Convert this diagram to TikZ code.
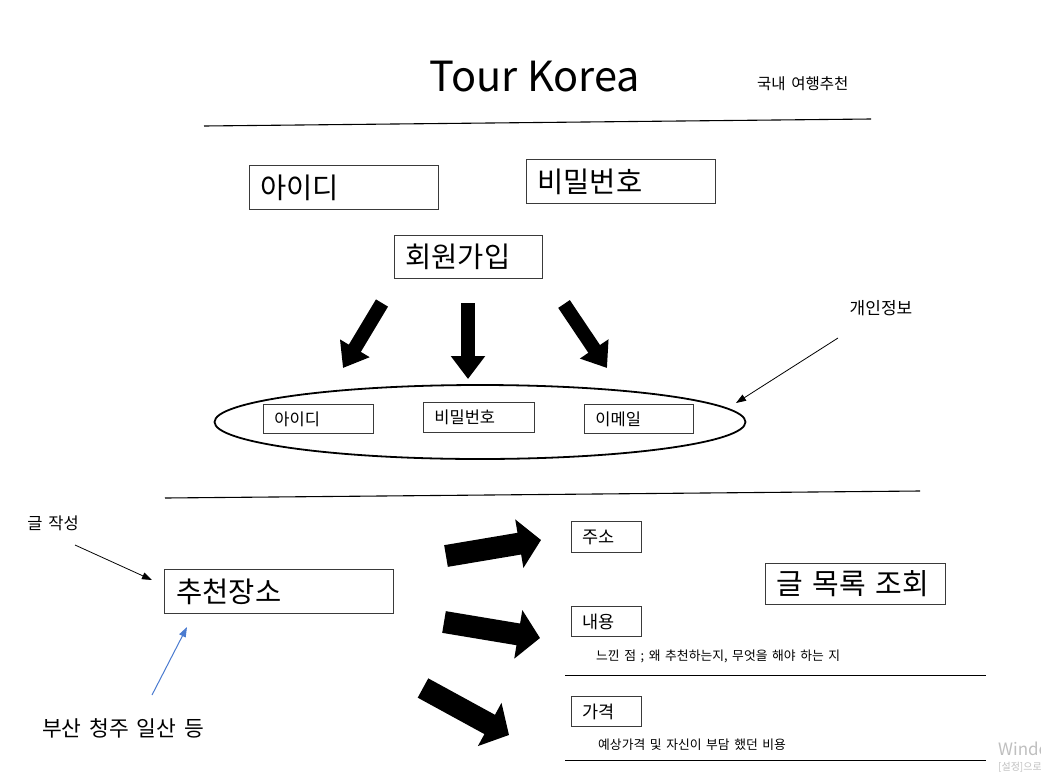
\documentclass[tikz,border=0pt]{standalone}
\usepackage{fontspec}
\setmainfont[WordSpace=1.6]{Noto Sans CJK KR}
\newfontfamily\titlefont{Noto Sans CJK KR}
\usetikzlibrary{arrows.meta,shapes.geometric}
\definecolor{boxline}{HTML}{3A3A3A}
\definecolor{bluearrow}{HTML}{4A7BD0}
\tikzset{
  fs/.style={font=\fontsize{#1}{#1}\selectfont},
  bigbox/.style={draw=boxline, line width=0.9pt, rectangle, anchor=north west, inner xsep=11pt, inner ysep=0pt, align=left, fs=28.5},
  smallbox/.style={draw=boxline, line width=0.9pt, rectangle, anchor=north west, inner xsep=11pt, inner ysep=0pt, align=left, fs=16.5},
  rule/.style={line width=1.1pt, black},
  fatdown/.style={line width=14pt, -{Triangle[width=33pt,length=23pt]}},
  fatright/.style={line width=22pt, -{Triangle[width=48pt,length=22pt]}},
  thinarrow/.style={line width=0.8pt, -{Triangle[width=7pt,length=10pt]}},
  plain/.style={inner sep=0pt},
}
\begin{document}
\begin{tikzpicture}[x=1pt,y=-1pt]
\useasboundingbox (0,0) rectangle (1041,774);
\fill[white] (0,0) rectangle (1041,774);

% title
\node[plain, font=\titlefont\fontsize{41.5}{42}\selectfont] (title) at (535,77) {Tour Korea};
\node[plain, fs=15.5, anchor=west] (sub) at (757,84) {국내 여행추천};
\coordinate (r1a) at (204,126);
\coordinate (r1b) at (871,119);
\draw[rule] (r1a) -- (r1b);

% login boxes
\node[bigbox, minimum width=189pt, minimum height=44pt, text width=167pt] (id) at (249,165) {아이디};
\node[bigbox, minimum width=189pt, minimum height=44pt, text width=167pt] (pw) at (526,159) {비밀번호};
\node[bigbox, minimum width=148pt, minimum height=43pt, text width=126pt] (join) at (394,235) {회원가입};

% fat arrows down
\coordinate (a1s) at (382,303); \coordinate (a1e) at (343,368);
\coordinate (a2s) at (468,303); \coordinate (a2e) at (468,379);
\coordinate (a3s) at (564,304); \coordinate (a3e) at (607,368);
\draw[fatdown] (a1s) -- (a1e);
\draw[fatdown] (a2s) -- (a2e);
\draw[fatdown] (a3s) -- (a3e);

% ellipse with fields
\node[draw, ellipse, line width=1.8pt, minimum width=531pt, minimum height=74pt, inner sep=0pt] (info) at (480,422) {};
\node[smallbox, minimum width=110pt, minimum height=29pt, text width=88pt] (fid) at (263,404) {아이디};
\node[smallbox, minimum width=111pt, minimum height=30pt, text width=89pt] (fpw) at (423,402) {비밀번호};
\node[smallbox, minimum width=109pt, minimum height=29pt, text width=87pt] (fmail) at (584,404) {이메일};

\node[plain, fs=17] (priv) at (881,308) {개인정보};
\coordinate (p1) at (838,338);
\coordinate (p2) at (736,403);
\draw[thinarrow] (p1) -- (p2);

\coordinate (r2a) at (165,498);
\coordinate (r2b) at (920,491);
\draw[rule] (r2a) -- (r2b);

% lower part
\node[plain, fs=16.5] (write) at (53,523) {글 작성};
\node[bigbox, minimum width=227pt, minimum height=44pt, text width=205pt, inner xsep=12pt] (place) at (164,569) {추천장소};
\coordinate (w1) at (75,545);
\coordinate (w2) at (152,580);
\draw[thinarrow] (w1) -- (w2);
\node[plain, fs=21.5] (ex) at (123,728) {부산 청주 일산 등};
\coordinate (b1) at (152,695);
\coordinate (b2) at (187,627);
\draw[bluearrow, line width=1pt, -{Triangle[width=7pt,length=10pt]}] (b1) -- (b2);

% fat arrows right
\coordinate (f1s) at (446,556); \coordinate (f1e) at (541,540);
\coordinate (f2s) at (444,622); \coordinate (f2e) at (540,638);
\coordinate (f3s) at (423,688); \coordinate (f3e) at (509,735);
\draw[fatright] (f1s) -- (f1e);
\draw[fatright] (f2s) -- (f2e);
\draw[fatright] (f3s) -- (f3e);

\node[smallbox, minimum width=70pt, minimum height=31pt, text width=48pt, fs=17.5] (addr) at (571,521) {주소};
\node[smallbox, minimum width=70pt, minimum height=30pt, text width=48pt, fs=17.5] (cont) at (571,606) {내용};
\node[smallbox, minimum width=70pt, minimum height=30pt, text width=48pt, fs=17.5] (price) at (571,696) {가격};

\node[plain, fs=12.8, anchor=west] (contd) at (596,656) {느낀 점 ; 왜 추천하는지, 무엇을 해야 하는 지};
\coordinate (r3a) at (565,675); \coordinate (r3b) at (986,675);
\draw[line width=1pt] (r3a) -- (r3b);
\node[plain, fs=12.8, anchor=west] (priced) at (598,745) {예상가격 및 자신이 부담 했던 비용};
\coordinate (r4a) at (565,760); \coordinate (r4b) at (986,760);
\draw[line width=1pt] (r4a) -- (r4b);

\node[bigbox, minimum width=180pt, minimum height=41pt, text width=158pt, fs=29] (list) at (765,563) {글 목록 조회};

% watermark (cut off by the page edge, as in the reference)
\begin{scope}
\clip (0,0) rectangle (1041,774);
\node[plain, fs=17, anchor=west, text=black!25] (wm1) at (998,749) {Windows};
\node[plain, fs=10, anchor=west, text=black!25] (wm2) at (998,767) {[설정]으로};
\end{scope}
\end{tikzpicture}
\end{document}
